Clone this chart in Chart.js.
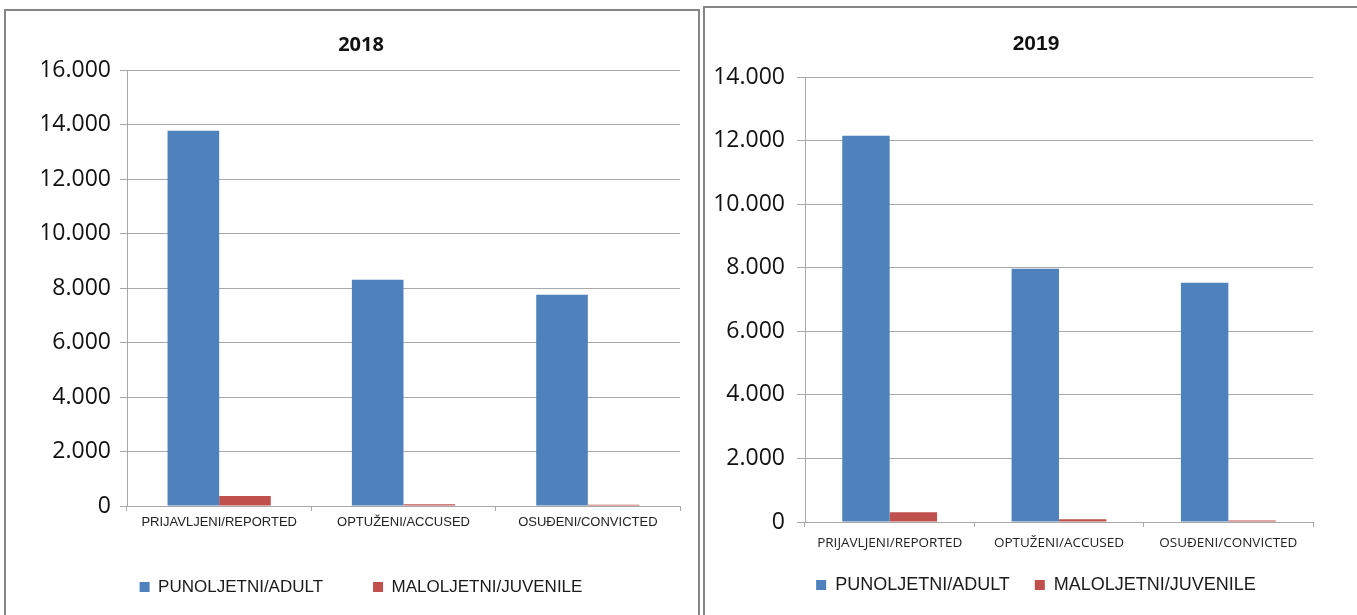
<!DOCTYPE html>
<html>
<head>
<meta charset="utf-8">
<title>2018 / 2019</title>
<script src="https://cdn.jsdelivr.net/npm/chart.js"></script>
<style>
    html, body { margin: 0; padding: 0; background: #fff; overflow: hidden; }
    .box { position: absolute; border: 2px solid #858585; background: #fff; }
    #box18 { left: 4px; top: 9px; width: 692px; height: 640px; }
    #box19 { left: 703px; top: 6px; width: 680px; height: 640px; }
</style>
</head>
<body>
<div class="box" id="box18"><canvas id="chart18" width="692" height="604"></canvas></div>
<div class="box" id="box19"><canvas id="chart19" width="652" height="607"></canvas></div>
<script>
    const categories = ['PRIJAVLJENI/REPORTED', 'OPTUŽENI/ACCUSED', 'OSUĐENI/CONVICTED'];
    const seriesNames = ['PUNOLJETNI/ADULT', 'MALOLJETNI/JUVENILE'];

    const adult2018 = [13770, 8300, 7750];
    const juvenile2018 = [370, 60, 50];
    const adult2019 = [12150, 7970, 7530];
    const juvenile2019 = [310, 90, 45];

    const yMax2018 = 16000;
    const yMax2019 = 14000;
    const yStep = 2000;

    const blue = '#4F81BD';
    const red = '#C0504D';
    const gridColor = '#a8a8a8';

    // 16000 -> "16.000"
    const fmt = v => String(v).replace(/\B(?=(\d{3})+(?!\d))/g, '.');

    function makeChart(id, cfg) {
        const scales = {
            x: {
                grid: { display: true, drawOnChartArea: false, color: gridColor, tickLength: 5 },
                border: { color: gridColor },
                ticks: { color: '#222', font: cfg.xFont, padding: cfg.xPad, maxRotation: 0 },
                afterFit: s => { s.height = cfg.xHeight; }
            },
            y: {
                min: 0, max: cfg.yMax,
                grid: { color: gridColor, tickLength: cfg.yTick },
                border: { color: gridColor },
                ticks: { stepSize: yStep, color: '#111', font: { family: 'Open Sans', size: 23 }, padding: cfg.yPad, callback: fmt },
                afterFit: s => { s.width = cfg.yWidth; }
            }
        };
        if (cfg.rightGap) {
            scales.yr = {
                position: 'right', display: true,
                grid: { display: false }, border: { display: false },
                ticks: { display: false },
                afterFit: s => { s.width = cfg.rightGap; }
            };
        }
        return new Chart(document.getElementById(id), {
            type: 'bar',
            data: {
                labels: categories,
                datasets: [
                    { label: seriesNames[0], data: cfg.adult, backgroundColor: blue },
                    { label: seriesNames[1], data: cfg.juvenile, backgroundColor: red }
                ]
            },
            options: {
                responsive: false,
                animation: false,
                categoryPercentage: 0.56,
                barPercentage: 1.0,
                layout: { padding: cfg.padding },
                plugins: {
                    title: {
                        display: true, text: cfg.title, color: '#111',
                        font: cfg.titleFont, padding: cfg.titlePad
                    },
                    legend: {
                        position: 'bottom',
                        labels: {
                            boxWidth: 10, boxHeight: 10, padding: cfg.legendPad,
                            color: '#1a1a1a', font: cfg.legendFont
                        }
                    },
                    tooltip: { enabled: false }
                },
                scales: scales
            }
        });
    }

    makeChart('chart18', {
        title: '2018',
        titleFont: { family: 'Open Sans', size: 20, weight: 'bold' },
        titlePad: { top: 22, bottom: 13 },
        adult: adult2018, juvenile: juvenile2018, yMax: yMax2018,
        padding: { left: 36, right: 18, top: 0, bottom: 9.5 },
        yWidth: 85, yTick: 7, yPad: 9, xHeight: 22.5, xPad: 3.5,
        xFont: { family: 'Liberation Sans', size: 13 },
        legendPad: 50, legendFont: { family: 'Liberation Sans', size: 17 }
    });

    makeChart('chart19', {
        title: '2019',
        titleFont: { family: "'Liberation Sans Narrow', 'Liberation Sans'", size: 21, weight: 'bold' },
        titlePad: { top: 23.4, bottom: 20.4 },
        adult: adult2019, juvenile: juvenile2019, yMax: yMax2019,
        padding: { left: 10, right: 0, top: 0, bottom: 11 },
        yWidth: 90, yTick: 8, yPad: 12, xHeight: 29, xPad: 8.5, rightGap: 44,
        xFont: { family: 'Open Sans', size: 13.5 },
        legendPad: 25, legendFont: { family: 'Liberation Sans', size: 18 }
    });
</script>
</body>
</html>
